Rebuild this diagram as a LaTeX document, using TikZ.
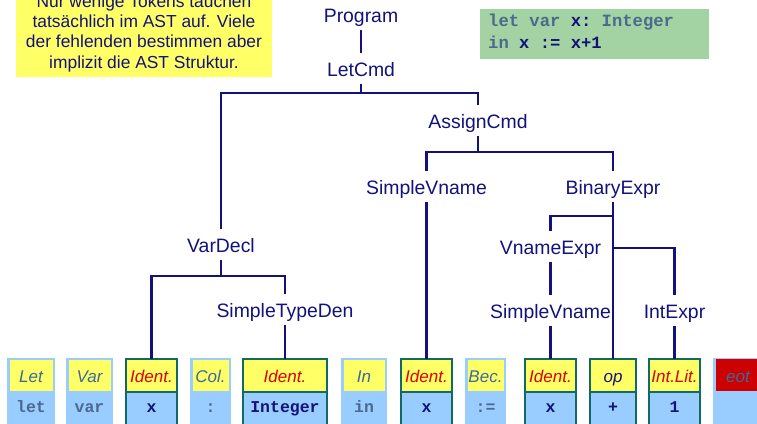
\documentclass[tikz,border=0pt]{standalone}
\usepackage{fontspec}
\setmainfont{Liberation Sans}
\setmonofont{Liberation Mono}
\definecolor{navy}{HTML}{12127A}
\definecolor{tokblue}{HTML}{99CCFF}
\definecolor{tokyellow}{HTML}{FFFF66}
\definecolor{tokgreen}{HTML}{106B66}
\definecolor{steel}{HTML}{3A6A9A}
\definecolor{identred}{HTML}{DD0000}
\definecolor{eotred}{HTML}{CC0000}
\definecolor{monolight}{HTML}{4A6A8E}
\definecolor{noteyellow}{HTML}{FFFF66}
\definecolor{codegreen}{HTML}{A3D2A3}
\tikzset{
  treenode/.style={font=\fontsize{19.4}{23}\selectfont, text=navy, inner sep=0pt,
    text height=20pt, text depth=5pt, outer ysep=3pt, anchor=base},
  tree/.style={draw=navy, line width=2.4pt},
  toklabel/.style={font=\fontsize{17}{20}\selectfont\itshape, inner sep=0pt, anchor=base},
  toktext/.style={font=\fontsize{16.5}{20}\selectfont\ttfamily\bfseries, inner sep=0pt, anchor=base},
  codetext/.style={font=\fontsize{17.2}{20}\selectfont\ttfamily\bfseries, inner sep=0pt, anchor=base west},
}
\newcommand\ptok[7]{%
  \fill[tokblue] (#2,358) rectangle (#3,430);
  \fill[tokyellow] (#2+3,360) rectangle (#3-2,391);
  \node[toklabel,text=#4] (#1l) at ({(#2+#3)/2},382) {#5};
  \node[toktext,text=#6] (#1t) at ({(#2+#3)/2},412) {#7};
}
\newcommand\gtok[6]{%
  \fill[tokblue] (#2,358) rectangle (#3,430);
  \fill[tokyellow] (#2,358) rectangle (#3,392);
  \draw[tokgreen,line width=2pt] (#2,392) -- (#3,392);
  \node[draw=tokgreen,line width=2pt,inner sep=0pt,outer sep=0pt,
        minimum width={#3-#2-2},minimum height=80,anchor=north west] (#1) at (#2+1,359) {};
  \node[toklabel,text=#4] (#1l) at ({(#2+#3)/2},382) {#5};
  \node[toktext,text=navy] (#1t) at ({(#2+#3)/2},412) {#6};
}
\begin{document}
\begin{tikzpicture}[x=1pt,y=-1pt]
\clip (0,0) rectangle (757,423);
\fill[white] (0,0) rectangle (757,423);

% note box
\node[fill=noteyellow, minimum width=256, inner xsep=0pt, inner ysep=5pt, align=center,
      anchor=south, font=\fontsize{17.4}{20.3}\selectfont, text=navy] (note) at (144,77)
  {Nur wenige Tokens tauchen\\tatsächlich im AST auf. Viele\\der fehlenden bestimmen aber\\implizit die AST Struktur.};

% code box
\node[fill=codegreen, minimum width=229, minimum height=50, inner sep=0pt, anchor=north west] (code) at (480,9) {};
\node[codetext] (code1) at (488,27) {\textcolor{monolight}{let var} \textcolor{navy}{x:} \textcolor{monolight}{Integer}};
\node[codetext] (code2) at (488,48) {\textcolor{monolight}{in} \textcolor{navy}{x := x+1}};

% tokens
\ptok{t1}{7}{55}{steel}{Let}{monolight}{let}
\ptok{t2}{66}{113}{steel}{Var}{monolight}{var}
\gtok{t3}{125}{178}{identred}{Ident.}{x}
\ptok{t4}{190}{231}{steel}{Col.}{monolight}{:}
\gtok{t5}{242}{328}{identred}{Ident.}{Integer}
\ptok{t6}{341}{387}{steel}{In}{monolight}{in}
\gtok{t7}{400}{453}{identred}{Ident.}{x}
\ptok{t8}{465}{506}{steel}{Bec.}{monolight}{:=}
\gtok{t9}{524}{577}{identred}{Ident.}{x}
\gtok{t10}{589}{637}{navy}{op}{+}
\gtok{t11}{648}{701}{identred}{Int.Lit.}{1}
\fill[tokblue] (713,358) rectangle (770,430);
\fill[eotred] (716,359) rectangle (770,391);
\node[toklabel,text=steel] (t12l) at (738,382) {eot};

% tree nodes
\node[treenode] (program) at (361,22) {Program};
\node[treenode] (letcmd) at (361,76) {LetCmd};
\node[treenode] (assign) at (478,128) {AssignCmd};
\node[treenode] (svn1) at (426.5,194) {SimpleVname};
\node[treenode] (binexpr) at (613,194) {BinaryExpr};
\node[treenode] (vnexpr) at (550.5,254) {VnameExpr};
\node[treenode] (svn2) at (550.5,318) {SimpleVname};
\node[treenode] (intexpr) at (674.5,318) {IntExpr};
\node[treenode] (vardecl) at (221,252) {VarDecl};
\node[treenode] (stden) at (285,317) {SimpleTypeDen};

\coordinate (j1) at (361,93);
\coordinate (j2) at (478,152);
\coordinate (j3) at (613,216);
\coordinate (j4) at (613,248);
\coordinate (j5) at (221,276);

% connectors
\draw[tree] (program.south) -- (letcmd.north);
\draw[tree] (letcmd.south) -- (j1);
\draw[tree] (vardecl.north) |- (j1) -| (assign.north);
\draw[tree] (assign.south) -- (j2);
\draw[tree] (svn1.north) |- (j2) -| (binexpr.north);
\draw[tree] (svn1.south) -- (svn1.south |- t7.north);
\draw[tree] (binexpr.south) -- (binexpr.south |- t10.north);
\draw[tree] (vnexpr.north) |- (j3);
\draw[tree] (j4) -| (intexpr.north);
\draw[tree] (vnexpr.south) -- (svn2.north);
\draw[tree] (svn2.south) -- (svn2.south |- t9.north);
\draw[tree] (intexpr.south) -- (intexpr.south |- t11.north);
\draw[tree] (vardecl.south) -- (j5);
\draw[tree] (t3.north) |- (j5) -| (stden.north);
\draw[tree] (stden.south) -- (stden.south |- t5.north);
\end{tikzpicture}
\end{document}
